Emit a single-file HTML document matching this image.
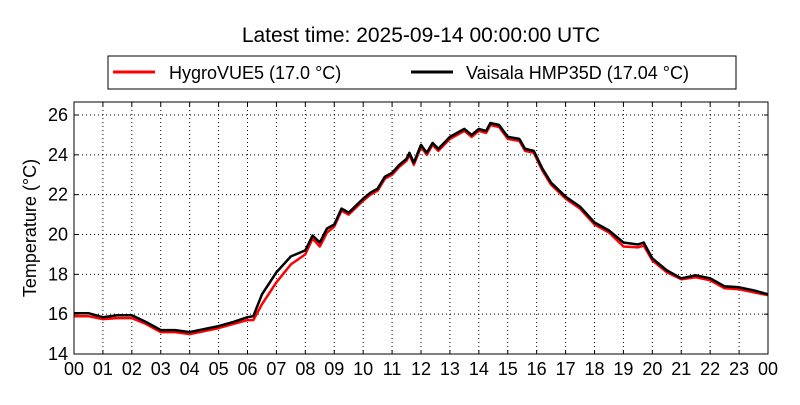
<!DOCTYPE html>
<html><head><meta charset="utf-8"><style>
body{margin:0;background:#fff;}
svg{font-family:"Liberation Sans",sans-serif;}
</style></head><body>
<svg id="c" width="800" height="400">
<text x="421" y="42" font-size="21" text-anchor="middle">Latest time: 2025-09-14 00:00:00 UTC</text>
<g>
<rect x="108" y="56" width="628" height="33" fill="#fff" stroke="#000" stroke-width="1"/>
<g><line x1="113" y1="72" x2="155" y2="72" stroke="red" stroke-width="3"/><text x="169" y="79" font-size="18">HygroVUE5 (17.0 °C)</text></g>
<g><line x1="411" y1="72" x2="453" y2="72" stroke="#000" stroke-width="3"/><text x="466" y="79" font-size="18">Vaisala HMP35D (17.04 °C)</text></g>
</g>
<text transform="translate(36,228) rotate(-90)" font-size="18" text-anchor="middle">Temperature (°C)</text>
<g id="grid"></g>
<g id="ticks"></g>
<g id="series"></g>
<rect x="74" y="102" width="694" height="252" fill="none" stroke="#000" stroke-width="1"/>
</svg>
<script>
const xTickLabels=["00","01","02","03","04","05","06","07","08","09","10","11","12","13","14","15","16","17","18","19","20","21","22","23","00"];
const yTicks=[14,16,18,20,22,24,26];
const times=[0,0.5,1,1.5,2,2.5,3,3.5,4,4.5,5,5.5,6,6.2,6.5,7,7.5,8,8.25,8.5,8.75,9,9.25,9.5,10,10.25,10.5,10.75,11,11.25,11.5,11.6,11.75,12,12.2,12.4,12.6,13,13.5,13.75,14,14.25,14.4,14.7,15,15.4,15.6,15.9,16.2,16.5,17,17.5,18,18.5,19,19.5,19.7,20,20.5,21,21.5,22,22.5,23,23.5,24];
const vaisala=[16.05,16.05,15.85,15.95,15.95,15.6,15.2,15.2,15.1,15.25,15.4,15.6,15.85,15.9,17.0,18.1,18.9,19.2,19.95,19.6,20.3,20.5,21.3,21.1,21.8,22.1,22.3,22.9,23.1,23.5,23.8,24.1,23.6,24.5,24.1,24.6,24.3,24.9,25.3,25.0,25.3,25.2,25.6,25.5,24.9,24.8,24.3,24.2,23.3,22.6,21.9,21.4,20.6,20.2,19.6,19.5,19.6,18.8,18.2,17.8,17.95,17.8,17.4,17.35,17.2,17.0];
const hygro=[15.9,15.9,15.75,15.8,15.8,15.5,15.1,15.1,15.0,15.15,15.3,15.5,15.7,15.7,16.5,17.6,18.5,19.0,19.8,19.4,20.1,20.4,21.2,21.0,21.7,22.0,22.2,22.8,23.0,23.4,23.7,24.0,23.5,24.4,24.0,24.5,24.2,24.8,25.2,24.9,25.2,25.1,25.5,25.4,24.8,24.7,24.2,24.1,23.2,22.5,21.8,21.3,20.5,20.1,19.4,19.35,19.45,18.7,18.1,17.75,17.85,17.7,17.3,17.25,17.1,16.95];
const X0=74,X1=768,Y0=354,Yt=115;
const xs=h=>X0+(X1-X0)*h/24;
const ys=v=>Y0-(Y0-Yt)*(v-14)/12;
const NS="http://www.w3.org/2000/svg";
const grid=document.getElementById('grid'),ticks=document.getElementById('ticks'),series=document.getElementById('series');
function mk(tag,at,parent){const e=document.createElementNS(NS,tag);for(const k in at)e.setAttribute(k,at[k]);parent.appendChild(e);return e;}
xTickLabels.forEach((l,i)=>{const x=xs(i);
 if(i>0&&i<24){const g=mk('line',{x1:x,x2:x,y1:102,y2:354,stroke:'#000','stroke-width':1,'stroke-dasharray':'1,3'},grid);
 
 }
 mk('line',{x1:x,x2:x,y1:354,y2:350,stroke:'#000'},ticks);mk('line',{x1:x,x2:x,y1:102,y2:106,stroke:'#000'},ticks);
 const t=mk('text',{x:x,y:375,'font-size':18,'text-anchor':'middle'},ticks);t.textContent=l;
 
 });
yTicks.forEach(v=>{const y=ys(v);
 if(v>14){const g=mk('line',{x1:74,x2:768,y1:y,y2:y,stroke:'#000','stroke-width':1,'stroke-dasharray':'1,3'},grid);
 
 }
 mk('line',{x1:74,x2:78,y1:y,y2:y,stroke:'#000'},ticks);mk('line',{x1:764,x2:768,y1:y,y2:y,stroke:'#000'},ticks);
 const t=mk('text',{x:68,y:y+6,'font-size':18,'text-anchor':'end'},ticks);t.textContent=v;
 
 });
function line(vals,color,name){const d=vals.map((v,i)=>(i?'L':'M')+xs(times[i]).toFixed(1)+','+ys(v).toFixed(1)).join('');
 const p=mk('path',{d:d,fill:'none',stroke:color,'stroke-width':2.5,'stroke-linejoin':'round'},series);
 
 }
line(hygro,'red','hygrovue5-line');
line(vaisala,'#000','vaisala-line');
</script>
</body></html>
